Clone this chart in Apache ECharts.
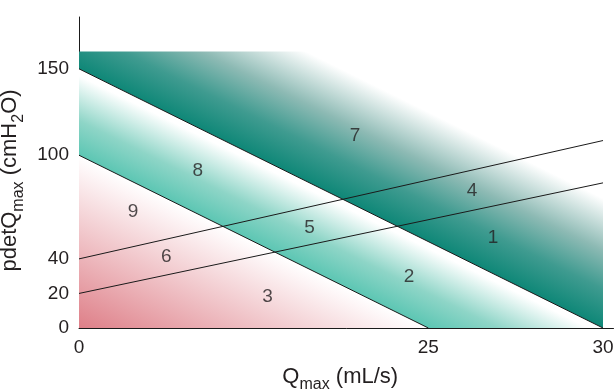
<!DOCTYPE html>
<html>
<head>
<meta charset="utf-8">
<script src="https://cdn.jsdelivr.net/npm/echarts@6/dist/echarts.min.js"></script>
<style>
  html, body { margin: 0; padding: 0; background: #fff; }
  #chart { width: 614px; height: 390px; }
</style>
</head>
<body>
<div id="chart"></div>
<script>
// zones of the nomogram (Qmax, pdet)
const pinkZone = [[0, 0], [0, 100], [20, 0]];
const tealZone = [[0, 100], [0, 150], [30, 0], [20, 0]];
const darkZone = [[0, 150], [0, 160], [30, 160], [30, 0]];

// boundary lines
const bciLow = [[0, 100], [20, 0]];
const bciHigh = [[0, 150], [30, 0]];
const booiLow = [[0, 20], [30, 84]];
const booiHigh = [[0, 40], [30, 108.5]];

// region numbers
const regionNames = ['1', '2', '3', '4', '5', '6', '7', '8', '9'];
const regionQ = [23.7, 18.9, 10.8, 22.5, 13.2, 5.0, 15.8, 6.8, 3.1];
const regionP = [52, 29.5, 17.8, 79.5, 58, 41.5, 111, 91, 67];

// tick labels (the figure prints "25" where Qmax = 20)
const xTickValues = [0, 20, 30];
const xTickTexts = ['0', '25', '30'];
const yTickValues = [0, 20, 40, 100, 150];

const textColor = '#231f20';
const font = 'Liberation Sans, Arial, sans-serif';

const chart = echarts.init(document.getElementById('chart'));

// gradient running perpendicular to a boundary line, from that line to a point
function perpGradient(api, lineA, lineB, farPt, stops) {
  const a = api.coord(lineA), b = api.coord(lineB), f = api.coord(farPt);
  let dx = b[0] - a[0], dy = b[1] - a[1];
  const len = Math.hypot(dx, dy);
  dx /= len; dy /= len;
  const nx = -dy, ny = dx;
  const d = (f[0] - a[0]) * nx + (f[1] - a[1]) * ny;
  return {
    type: 'linear', global: true,
    x: a[0], y: a[1], x2: a[0] + nx * d, y2: a[1] + ny * d,
    colorStops: stops
  };
}

function zoneSeries(points, fillFn) {
  return {
    type: 'custom',
    data: [0],
    silent: true,
    z: 1,
    renderItem: function (params, api) {
      return {
        type: 'polygon',
        shape: { points: points.map(p => api.coord(p)) },
        style: { fill: fillFn(api), stroke: null }
      };
    }
  };
}

function lineSeries(data) {
  return {
    type: 'line',
    data: data,
    symbol: 'none',
    silent: true,
    z: 3,
    lineStyle: { color: '#1a1a1a', width: 1 }
  };
}

const richName = {
  m: { fontSize: 22, color: textColor, fontFamily: font, lineHeight: 26, verticalAlign: 'bottom' },
  s: { fontSize: 16, color: textColor, fontFamily: font, lineHeight: 20, verticalAlign: 'bottom', padding: [0, 0, -5, 0] }
};

const option = {
  animation: false,
  grid: { left: 79, top: 17, bottom: 62, width: 534.5, containLabel: false, outerBoundsMode: 'none' },
  xAxis: {
    type: 'value',
    min: 0,
    max: 30.6,
    interval: 10,
    axisLine: { lineStyle: { color: '#1a1a1a', width: 1 } },
    axisTick: { show: false },
    splitLine: { show: false },
    axisLabel: {
      color: textColor, fontSize: 19, fontFamily: font, margin: 10,
      formatter: function (v) {
        const i = xTickValues.indexOf(v);
        return i >= 0 ? xTickTexts[i] : '';
      }
    },
    name: '{m|Q}{s|max}{m| (mL/s)}',
    nameLocation: 'middle',
    nameGap: 34,
    nameTextStyle: { padding: [0, 12, 0, 0], rich: richName }
  },
  yAxis: {
    type: 'value',
    min: 0,
    max: 180,
    interval: 10,
    axisLine: { show: true, lineStyle: { color: '#1a1a1a', width: 1 } },
    axisTick: { show: false },
    splitLine: { show: false },
    axisLabel: {
      color: textColor, fontSize: 19, fontFamily: font, margin: 10,
      formatter: function (v) {
        return yTickValues.indexOf(v) >= 0 ? String(v) : '';
      }
    },
    name: '{m|pdetQ}{s|max}{m| (cmH}{s|2}{m|O)}',
    nameLocation: 'middle',
    nameRotate: 90,
    nameGap: 40,
    nameTextStyle: { padding: [0, 16, 0, 0], rich: richName }
  },
  series: [
    zoneSeries(pinkZone, api => perpGradient(api, bciLow[0], bciLow[1], [0, 0], [
      { offset: 0, color: '#ffffff' },
      { offset: 0.08, color: '#fdf5f6' },
      { offset: 1, color: '#de7f88' }
    ])),
    zoneSeries(tealZone, api => perpGradient(api, bciLow[0], bciLow[1], [0, 150], [
      { offset: 0, color: '#5cc6b3' },
      { offset: 0.4, color: '#8ed5c7' },
      { offset: 0.92, color: '#ffffff' },
      { offset: 1, color: '#ffffff' }
    ])),
    zoneSeries(darkZone, api => perpGradient(api, bciHigh[0], bciHigh[1], [0, 225], [
      { offset: 0, color: '#0e8777' },
      { offset: 0.3, color: '#3f9b90' },
      { offset: 0.6, color: '#8dbab4' },
      { offset: 1, color: '#ffffff' }
    ])),
    lineSeries(bciLow),
    lineSeries(bciHigh),
    lineSeries(booiLow),
    lineSeries(booiHigh),
    {
      type: 'scatter',
      silent: true,
      z: 4,
      symbolSize: 1,
      itemStyle: { color: 'rgba(0,0,0,0)' },
      data: regionNames.map((n, i) => ({ name: n, value: [regionQ[i], regionP[i]] })),
      label: {
        show: true,
        position: 'inside',
        formatter: p => p.name,
        color: textColor,
        fontSize: 19,
        fontFamily: font
      }
    }
  ]
};

chart.setOption(option);
</script>
</body>
</html>
